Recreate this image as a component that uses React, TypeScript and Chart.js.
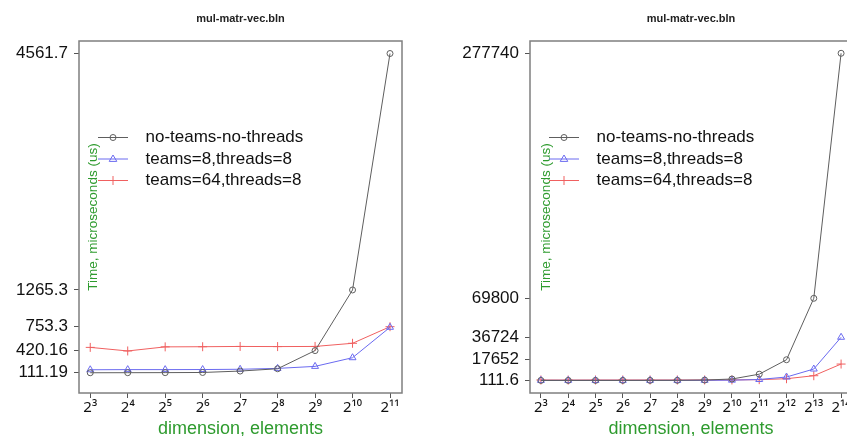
import React, { useEffect, useRef } from 'react';
import { Chart, registerables } from 'chart.js';

Chart.register(...registerables);

const FONT = "'Liberation Sans', Arial, Helvetica, sans-serif";
const TICK_X_FONT = "'Noto Sans', 'DejaVu Sans', sans-serif";

const TITLE = 'mul-matr-vec.bln';
const X_TITLE = 'dimension, elements';
const Y_TITLE = 'Time, microseconds (us)';
const SERIES_NAMES = ['no-teams-no-threads', 'teams=8,threads=8', 'teams=64,threads=8'];

// Left panel (dimension = 2^3 .. 2^11)
const leftExponents = [3, 4, 5, 6, 7, 8, 9, 10, 11];
const leftNoTeams = [111.19, 112, 113, 115, 135, 167, 420.16, 1265.3, 4561.7];
const leftTeams8 = [153, 155, 155, 156, 160, 172, 200, 321, 745];
const leftTeams64 = [465, 415, 472, 474, 478, 476, 478, 522, 753.3];
const leftYTickLabels = ['111.19', '420.16', '753.3', '1265.3', '4561.7'];

// Right panel (dimension = 2^3 .. 2^14)
const rightExponents = [3, 4, 5, 6, 7, 8, 9, 10, 11, 12, 13, 14];
const rightNoTeams = [111.6, 112, 113, 115, 135, 167, 420, 1300, 5400, 17652, 69800, 277740];
const rightTeams8 = [153, 155, 155, 156, 160, 172, 200, 321, 900, 3000, 9780, 36724];
const rightTeams64 = [465, 415, 472, 474, 478, 476, 478, 522, 760, 1550, 4100, 14000];
const rightYTickLabels = ['111.6', '17652', '36724', '69800', '277740'];

const STYLES = [
  { color: '#5e5e5e', pointStyle: 'circle', radius: 3 },
  { color: '#6a6af0', pointStyle: 'triangle', radius: 4 },
  { color: '#f06060', pointStyle: 'cross', radius: 4.5 },
];

const GREEN = '#2e9b2e';
const SUP = '⁰¹²³⁴⁵⁶⁷⁸⁹';
const sup = (n: number) =>
  String(n)
    .split('')
    .map((d) => SUP[+d])
    .join('');

function drawMarker(ctx: CanvasRenderingContext2D, style: string, x: number, y: number, r: number) {
  ctx.beginPath();
  if (style === 'circle') {
    ctx.arc(x, y, r, 0, Math.PI * 2);
  } else if (style === 'triangle') {
    ctx.moveTo(x, y - r);
    ctx.lineTo(x + r * 0.95, y + r * 0.6);
    ctx.lineTo(x - r * 0.95, y + r * 0.6);
    ctx.closePath();
  } else {
    ctx.moveTo(x - r, y);
    ctx.lineTo(x + r, y);
    ctx.moveTo(x, y - r);
    ctx.lineTo(x, y + r);
  }
  ctx.stroke();
}

const framePlugin = {
  id: 'frame',
  beforeDatasetsDraw(chart: any) {
    const { ctx, chartArea } = chart;
    ctx.save();
    ctx.strokeStyle = '#7f7f7f';
    ctx.lineWidth = 1.5;
    ctx.strokeRect(chartArea.left, chartArea.top, chartArea.right - chartArea.left, chartArea.bottom - chartArea.top);
    ctx.restore();
  },
};

const legendPlugin = {
  id: 'insetLegend',
  afterDatasetsDraw(chart: any) {
    const { ctx, chartArea } = chart;
    chart.data.datasets.forEach((ds: any, i: number) => {
      const y = chartArea.top + 96.5 + i * 21.5;
      const x0 = chartArea.left + 19;
      const x1 = chartArea.left + 49;
      const xm = chartArea.left + 34;
      ctx.save();
      ctx.strokeStyle = ds.borderColor;
      ctx.lineWidth = 1;
      ctx.beginPath();
      ctx.moveTo(x0, y);
      ctx.lineTo(x1, y);
      ctx.stroke();
      drawMarker(ctx, STYLES[i].pointStyle, xm, y, STYLES[i].radius);
      ctx.font = `17px ${FONT}`;
      ctx.fillStyle = '#111';
      ctx.textBaseline = 'middle';
      ctx.textAlign = 'left';
      ctx.fillText(ds.label, chartArea.left + 66.5, y);
      ctx.restore();
    });
  },
};

function makeConfig(p: {
  exps: number[];
  series: number[][];
  yTicks: string[];
  xMin: number;
  xMax: number;
  yMin: number;
  yMax: number;
  yAxisWidth: number;
  padRight: number;
  yTitleOffset: number;
}): any {
  return {
    type: 'line',
    data: {
      datasets: p.series.map((vals, i) => ({
        label: SERIES_NAMES[i],
        data: p.exps.map((e, j) => ({ x: e, y: vals[j] })),
        borderColor: STYLES[i].color,
        backgroundColor: 'rgba(0,0,0,0)',
        pointBackgroundColor: 'rgba(0,0,0,0)',
        pointBorderColor: STYLES[i].color,
        pointStyle: STYLES[i].pointStyle,
        pointRadius: STYLES[i].radius,
        pointBorderWidth: 1,
        borderWidth: 1,
        tension: 0,
      })),
    },
    options: {
      animation: false,
      responsive: false,
      devicePixelRatio: 1,
      layout: { padding: { left: 0, right: p.padRight, top: 0, bottom: 0 } },
      plugins: {
        legend: { display: false },
        tooltip: { enabled: false },
        title: {
          display: true,
          text: TITLE,
          fullSize: false,
          color: '#222',
          font: { family: FONT, size: 11, weight: 'bold', lineHeight: 1 },
          padding: { top: 13, bottom: 17 },
        },
      },
      scales: {
        x: {
          type: 'linear',
          position: 'bottom',
          min: p.xMin,
          max: p.xMax,
          afterBuildTicks: (s: any) => {
            s.ticks = p.exps.map((v) => ({ value: v }));
          },
          afterFit: (s: any) => {
            s.height = 43;
          },
          grid: { display: true, drawOnChartArea: false, drawTicks: true, tickLength: 5, color: '#555', lineWidth: 1 },
          border: { display: false },
          ticks: {
            font: { family: TICK_X_FONT, size: 15 },
            color: '#111',
            padding: 1,
            maxRotation: 0,
            autoSkip: false,
            callback: (v: number) => '2' + sup(v),
          },
          title: {
            display: true,
            text: X_TITLE,
            color: GREEN,
            font: { family: FONT, size: 18, lineHeight: 1 },
            padding: { top: 0, bottom: -2.5 },
          },
        },
        y: {
          type: 'linear',
          position: 'left',
          min: p.yMin,
          max: p.yMax,
          afterBuildTicks: (s: any) => {
            s.ticks = p.yTicks.map((t) => ({ value: parseFloat(t) }));
          },
          afterFit: (s: any) => {
            s.width = p.yAxisWidth;
          },
          grid: { display: true, drawOnChartArea: false, drawTicks: true, tickLength: 5, color: '#555', lineWidth: 1 },
          border: { display: false },
          ticks: {
            font: { family: FONT, size: 17 },
            color: '#111',
            padding: 6,
            autoSkip: false,
            callback: (_v: number, i: number) => p.yTicks[i],
          },
          title: {
            display: true,
            text: Y_TITLE,
            color: GREEN,
            font: { family: FONT, size: 13.5, lineHeight: 1 },
            padding: { top: p.yTitleOffset, bottom: 0 },
          },
        },
      },
    },
    plugins: [framePlugin, legendPlugin],
  };
}

export default function App() {
  const leftRef = useRef<HTMLCanvasElement>(null);
  const rightRef = useRef<HTMLCanvasElement>(null);

  useEffect(() => {
    const c1 = new Chart(
      leftRef.current!,
      makeConfig({
        exps: leftExponents,
        series: [leftNoTeams, leftTeams8, leftTeams64],
        yTicks: leftYTickLabels,
        xMin: 2.7,
        xMax: 11.32,
        yMin: -171,
        yMax: 4736,
        yAxisWidth: 79,
        padRight: 18,
        yTitleOffset: 87,
      })
    );
    const c2 = new Chart(
      rightRef.current!,
      makeConfig({
        exps: rightExponents,
        series: [rightNoTeams, rightTeams8, rightTeams64],
        yTicks: rightYTickLabels,
        xMin: 2.6,
        xMax: 14.4,
        yMin: -10570,
        yMax: 288170,
        yAxisWidth: 110,
        padRight: 28,
        yTitleOffset: 120,
      })
    );
    return () => {
      c1.destroy();
      c2.destroy();
    };
  }, []);

  return (
    <div
      style={{
        position: 'fixed',
        left: 0,
        top: 0,
        width: 847,
        height: 436,
        overflow: 'hidden',
        background: '#fff',
      }}
    >
      <div style={{ position: 'absolute', left: 0, top: 0 }}>
        <canvas ref={leftRef} width={420} height={436} style={{ display: 'block' }} />
      </div>
      <div style={{ position: 'absolute', left: 420, top: 0 }}>
        <canvas ref={rightRef} width={460} height={436} style={{ display: 'block' }} />
      </div>
    </div>
  );
}
